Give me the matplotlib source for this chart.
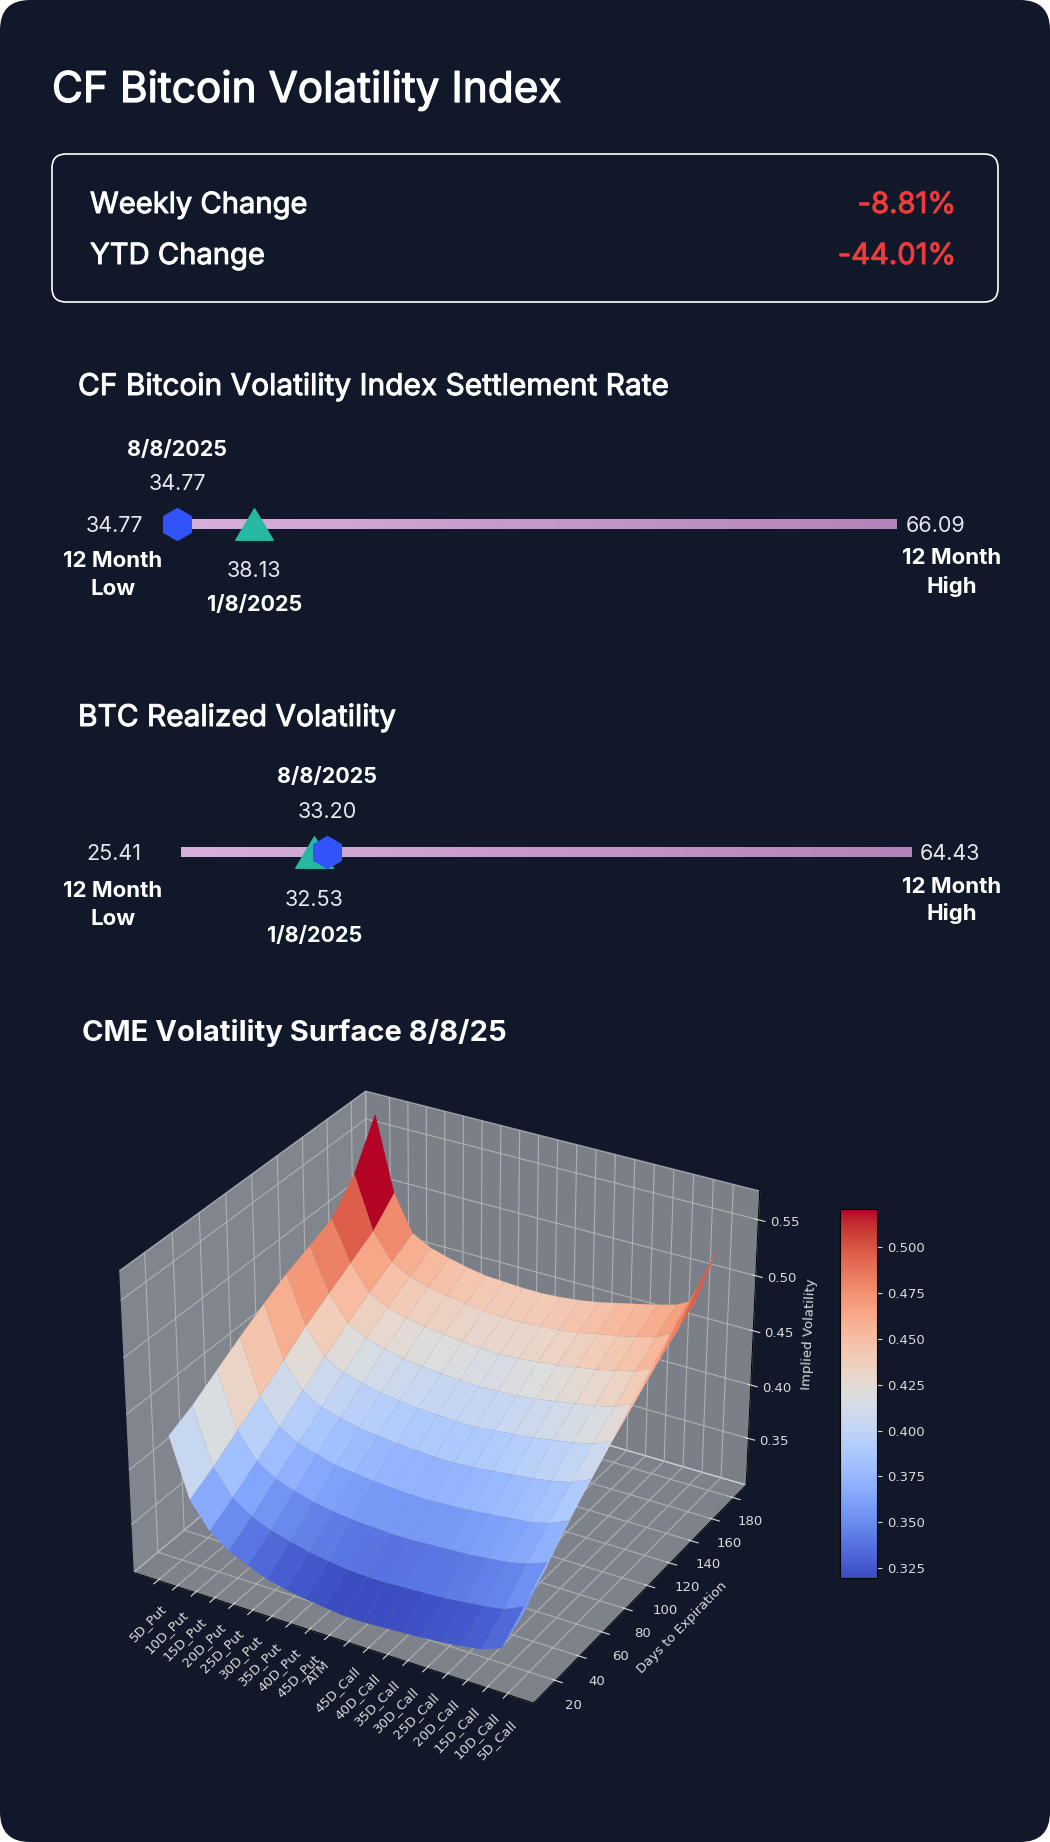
import numpy as np
import matplotlib
matplotlib.use("Agg")
import matplotlib.pyplot as plt
from matplotlib.patches import FancyBboxPatch
from matplotlib.path import Path
from matplotlib.colors import LinearSegmentedColormap
import matplotlib.patheffects as pe

# ---------------- data ----------------
title = "CF Bitcoin Volatility Index"
change_labels = ["Weekly Change", "YTD Change"]
change_values = ["-8.81%", "-44.01%"]

cvi_title = "CF Bitcoin Volatility Index Settlement Rate"
cvi_low, cvi_high = 34.77, 66.09
cvi_current, cvi_ytd = 34.77, 38.13

rv_title = "BTC Realized Volatility"
rv_low, rv_high = 25.41, 64.43
rv_current, rv_ytd = 33.20, 32.53

current_date = "8/8/2025"
ytd_date = "1/8/2025"

surface_title = "CME Volatility Surface 8/8/25"
strikes = ["5D_Put", "10D_Put", "15D_Put", "20D_Put", "25D_Put", "30D_Put",
           "35D_Put", "40D_Put", "45D_Put", "ATM", "45D_Call", "40D_Call",
           "35D_Call", "30D_Call", "25D_Call", "20D_Call", "15D_Call",
           "10D_Call", "5D_Call"]
days = [14, 32, 51, 69, 88, 106, 125, 143, 162, 180]
day_ticks = [20, 40, 60, 80, 100, 120, 140, 160, 180]
iv = [
    [.426, .373, .350, .337, .329, .322, .318, .315, .313, .311, .311, .312, .313, .314, .316, .318, .321, .328, .363],
    [.436, .385, .362, .350, .343, .338, .334, .331, .329, .328, .328, .329, .330, .331, .333, .335, .338, .346, .384],
    [.450, .400, .377, .366, .360, .355, .352, .350, .349, .348, .348, .349, .350, .351, .353, .355, .359, .366, .406],
    [.463, .414, .391, .381, .376, .371, .369, .367, .366, .365, .365, .366, .367, .369, .371, .373, .377, .385, .426],
    [.476, .429, .406, .396, .391, .387, .385, .383, .382, .381, .381, .382, .384, .386, .388, .391, .395, .403, .445],
    [.487, .444, .420, .411, .406, .402, .400, .398, .397, .396, .396, .398, .400, .402, .405, .408, .412, .420, .463],
    [.496, .457, .434, .425, .420, .416, .414, .412, .411, .410, .411, .412, .414, .417, .420, .423, .427, .436, .480],
    [.505, .469, .446, .437, .432, .429, .427, .425, .424, .423, .424, .426, .428, .431, .434, .438, .442, .451, .496],
    [.530, .482, .458, .449, .444, .441, .438, .436, .435, .435, .436, .438, .440, .444, .447, .451, .456, .465, .512],
    [.570, .502, .469, .460, .455, .451, .448, .447, .446, .446, .447, .449, .452, .456, .460, .464, .469, .478, .530],
]

# ---------------- style ----------------
W, H = 1050, 1842
BG = "#101829"
WHITE = "#FFFFFF"
SOFT = "#E6E8EE"
RED = "#F03B3B"
BLUE = "#3253FA"
TEAL = "#27B8A2"
TICK = "#DADADA"
FONT = ["Inter", "DejaVu Sans"]


def medium(color, lw=0.7):
    return [pe.withStroke(linewidth=lw, foreground=color)]


fig = plt.figure(figsize=(W / 100, H / 100), dpi=100, facecolor="white")

bg = fig.add_axes([0, 0, 1, 1])
bg.set_xlim(0, W)
bg.set_ylim(H, 0)
bg.axis("off")
bg.add_patch(FancyBboxPatch((0, 0), W, H, boxstyle="round,pad=0,rounding_size=30",
                            fc=BG, ec="none"))

# header
bg.text(52, 102, title, color=WHITE, fontsize=30.5, family=FONT, va="baseline",
        path_effects=medium(WHITE, 0.9))
bg.add_patch(FancyBboxPatch((52, 154), 946, 148, boxstyle="round,pad=0,rounding_size=14",
                            fc="none", ec=WHITE, lw=1.2))
for lab, val, yb in zip(change_labels, change_values, [213, 264]):
    bg.text(90, yb, lab, color=WHITE, fontsize=21, family=FONT, va="baseline",
            path_effects=medium(WHITE))
    bg.text(956, yb, val, color=RED, fontsize=21, family=FONT, va="baseline", ha="right",
            path_effects=medium(RED))

# section headers
bg.text(78, 395, cvi_title, color=WHITE, fontsize=21.5, family=FONT, va="baseline",
        path_effects=medium(WHITE))
bg.text(78, 726, rv_title, color=WHITE, fontsize=21.5, family=FONT, va="baseline",
        path_effects=medium(WHITE))
bg.text(82, 1041, surface_title, color=WHITE, fontsize=21, family=FONT, weight="bold",
        va="baseline")

bar_cmap = LinearSegmentedColormap.from_list("bar", ["#D8B0DC", "#B283B8"])
tri = Path([(-1.0, -0.84), (1.0, -0.84), (0.0, 0.84), (-1.0, -0.84)],
           [Path.MOVETO, Path.LINETO, Path.LINETO, Path.CLOSEPOLY])

VAL_FS = 15.5
LAB_FS = 16


def range_section(low, high, cur, ytd, x0, x1, ybar, ytxt):
    top, bot = ybar - 110, ybar + 110
    ax = fig.add_axes([x0 / W, (H - bot) / H, (x1 - x0) / W, (bot - top) / H])
    ax.set_xlim(low, high)
    ax.set_ylim(bot, top)
    ax.axis("off")
    grad = np.linspace(0, 1, 256).reshape(1, -1)
    ax.imshow(grad, extent=[low, high, ybar + 5, ybar - 5], aspect="auto", cmap=bar_cmap,
              zorder=1, interpolation="bicubic")
    ax.plot([ytd], [ybar], marker=tri, ms=27, color=TEAL, ls="none", zorder=4, clip_on=False)
    ax.plot([cur], [ybar], marker="h", ms=23, color=BLUE, ls="none", zorder=5, clip_on=False)
    ax.text(cur, ytxt["cur_date"], current_date, color=WHITE, fontsize=VAL_FS, family=FONT,
            weight="bold", ha="center", va="baseline", clip_on=False)
    ax.text(cur, ytxt["cur_val"], f"{cur:.2f}", color=SOFT, fontsize=VAL_FS, family=FONT,
            ha="center", va="baseline", clip_on=False)
    ax.text(ytd, ytxt["ytd_val"], f"{ytd:.2f}", color=SOFT, fontsize=VAL_FS, family=FONT,
            ha="center", va="baseline", clip_on=False)
    ax.text(ytd, ytxt["ytd_date"], ytd_date, color=WHITE, fontsize=VAL_FS, family=FONT,
            weight="bold", ha="center", va="baseline", clip_on=False)
    return ax


range_section(cvi_low, cvi_high, cvi_current, cvi_ytd, 177, 897, 524,
              dict(cur_date=456, cur_val=490, ytd_val=577, ytd_date=611))
range_section(rv_low, rv_high, rv_current, rv_ytd, 181, 912, 852,
              dict(cur_date=783, cur_val=818, ytd_val=906, ytd_date=942))

# end labels
for low, high, yb, xhi, ylo, yhi in [(cvi_low, cvi_high, 532, 936, (567, 595), (564, 593)),
                                     (rv_low, rv_high, 860, 950, (897, 925), (893, 920))]:
    bg.text(114, yb, f"{low:.2f}", color=SOFT, fontsize=VAL_FS, family=FONT, ha="center", va="baseline")
    bg.text(113, ylo[0], "12 Month", color=WHITE, fontsize=LAB_FS, family=FONT, weight="bold",
            ha="center", va="baseline")
    bg.text(113, ylo[1], "Low", color=WHITE, fontsize=LAB_FS, family=FONT, weight="bold",
            ha="center", va="baseline")
    bg.text(xhi, yb, f"{high:.2f}", color=SOFT, fontsize=VAL_FS, family=FONT,
            ha="center", va="baseline")
    bg.text(952, yhi[0], "12 Month", color=WHITE, fontsize=LAB_FS, family=FONT, weight="bold",
            ha="center", va="baseline")
    bg.text(952, yhi[1], "High", color=WHITE, fontsize=LAB_FS, family=FONT, weight="bold",
            ha="center", va="baseline")

# ---------------- 3D surface ----------------
ax3 = fig.add_axes([71 / W, (H - 1748) / H, 730 / W, 712 / H], projection="3d")
ax3.set_facecolor((0, 0, 0, 0))
xs = np.arange(len(strikes))
Xg, Yg = np.meshgrid(xs, days)
Z = np.array(iv)
surf = ax3.plot_surface(Xg, Yg, Z, cmap="coolwarm")
ax3.set_xticks(xs)
ax3.set_xticklabels(strikes, rotation=45)
ax3.set_yticks(day_ticks)
ax3.set_ylabel("Days to Expiration", color=TICK, fontsize=9.5)
ax3.set_zlabel("Implied Volatility", color=TICK, fontsize=9.5)
ax3.tick_params(colors=TICK, labelsize=9.5)

cax = fig.add_axes([840 / W, (H - 1578) / H, 37 / W, 369 / H])
cb = fig.colorbar(surf, cax=cax)
cb.ax.tick_params(colors=TICK, labelsize=9.5)

fig.savefig("out.png", dpi=100, facecolor="white")
